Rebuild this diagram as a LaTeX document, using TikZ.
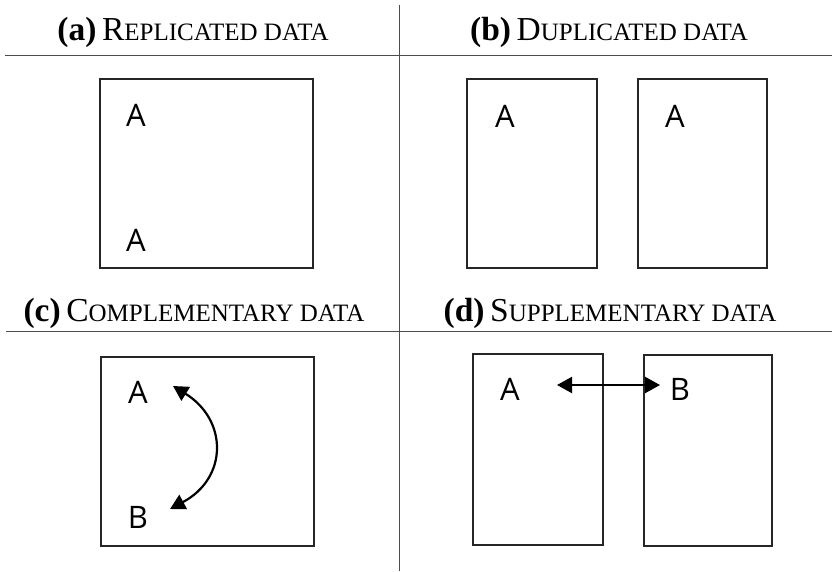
\documentclass[tikz,border=0pt]{standalone}
\usepackage{fontspec}
\setmainfont{Liberation Serif}
\newfontfamily\letterfont{Open Sans}
\usetikzlibrary{arrows.meta}

% fake small caps for the headers
\newcommand{\hdr}[3]{\textbf{(#1)}\,{#2}{\fontsize{25}{27}\selectfont #3}}

\tikzset{
  panel/.style={draw=black!85, line width=1.4pt},
  divider/.style={draw=black!70, line width=1pt},
  header/.style={font=\fontsize{33.5}{36}\selectfont, inner sep=0pt},
  letter/.style={font=\letterfont\fontsize{31}{33}\selectfont, inner sep=0pt},
  link/.style={line width=2.2pt, {Triangle[length=15pt,width=16pt]}-{Triangle[length=15pt,width=16pt]}}
}

\begin{document}
\begin{tikzpicture}[x=1pt,y=-1pt]
    \useasboundingbox (0,0) rectangle (832,571);

    % the dividing lines
    \draw[divider] (399,5) -- (399,571);
    \draw[divider] (5,55) -- (832,55);
    \draw[divider] (6,331) -- (832,331);

    % the headers
    \node[header, anchor=base] (ha) at (193,40) {\hdr{a}{R}{EPLICATED DATA}};
    \node[header, anchor=base] (hb) at (609,40) {\hdr{b}{D}{UPLICATED DATA}};
    \node[header, anchor=base] (hc) at (194,321) {\hdr{c}{C}{OMPLEMENTARY DATA}};
    \node[header, anchor=base] (hd) at (610,321) {\hdr{d}{S}{UPPLEMENTARY DATA}};

    % the boxes
    \draw[panel] (100,79) rectangle (313,268);
    \draw[panel] (467,79) rectangle (597,268);
    \draw[panel] (638,79) rectangle (767,268);
    \draw[panel] (101,357) rectangle (314,546);
    \draw[panel] (473,354) rectangle (603,545);
    \draw[panel] (644,355) rectangle (772,546);

    % the data in the boxes
    \node[letter] (a1) at (136,115) {A};
    \node[letter] (a2) at (136,240) {A};
    \node[letter] (b1) at (505,116) {A};
    \node[letter] (b2) at (675,116) {A};
    \node[letter] (c1) at (138,392) {A};
    \node[letter] (c2) at (138,517) {B};
    \node[letter] (d1) at (510,389) {A};
    \node[letter] (d2) at (680,389) {B};

    % ends of the arrows
    \coordinate (c1end) at (173,386);
    \coordinate (c2end) at (170,509);
    \coordinate (d1end) at (557,385);
    \coordinate (d2end) at (660,385);

    % draw the arrows
    \draw[link] (c1end) .. controls (228,420) and (228,478) .. (c2end);
    \draw[link] (d1end) -- (d2end);

\end{tikzpicture}
\end{document}
